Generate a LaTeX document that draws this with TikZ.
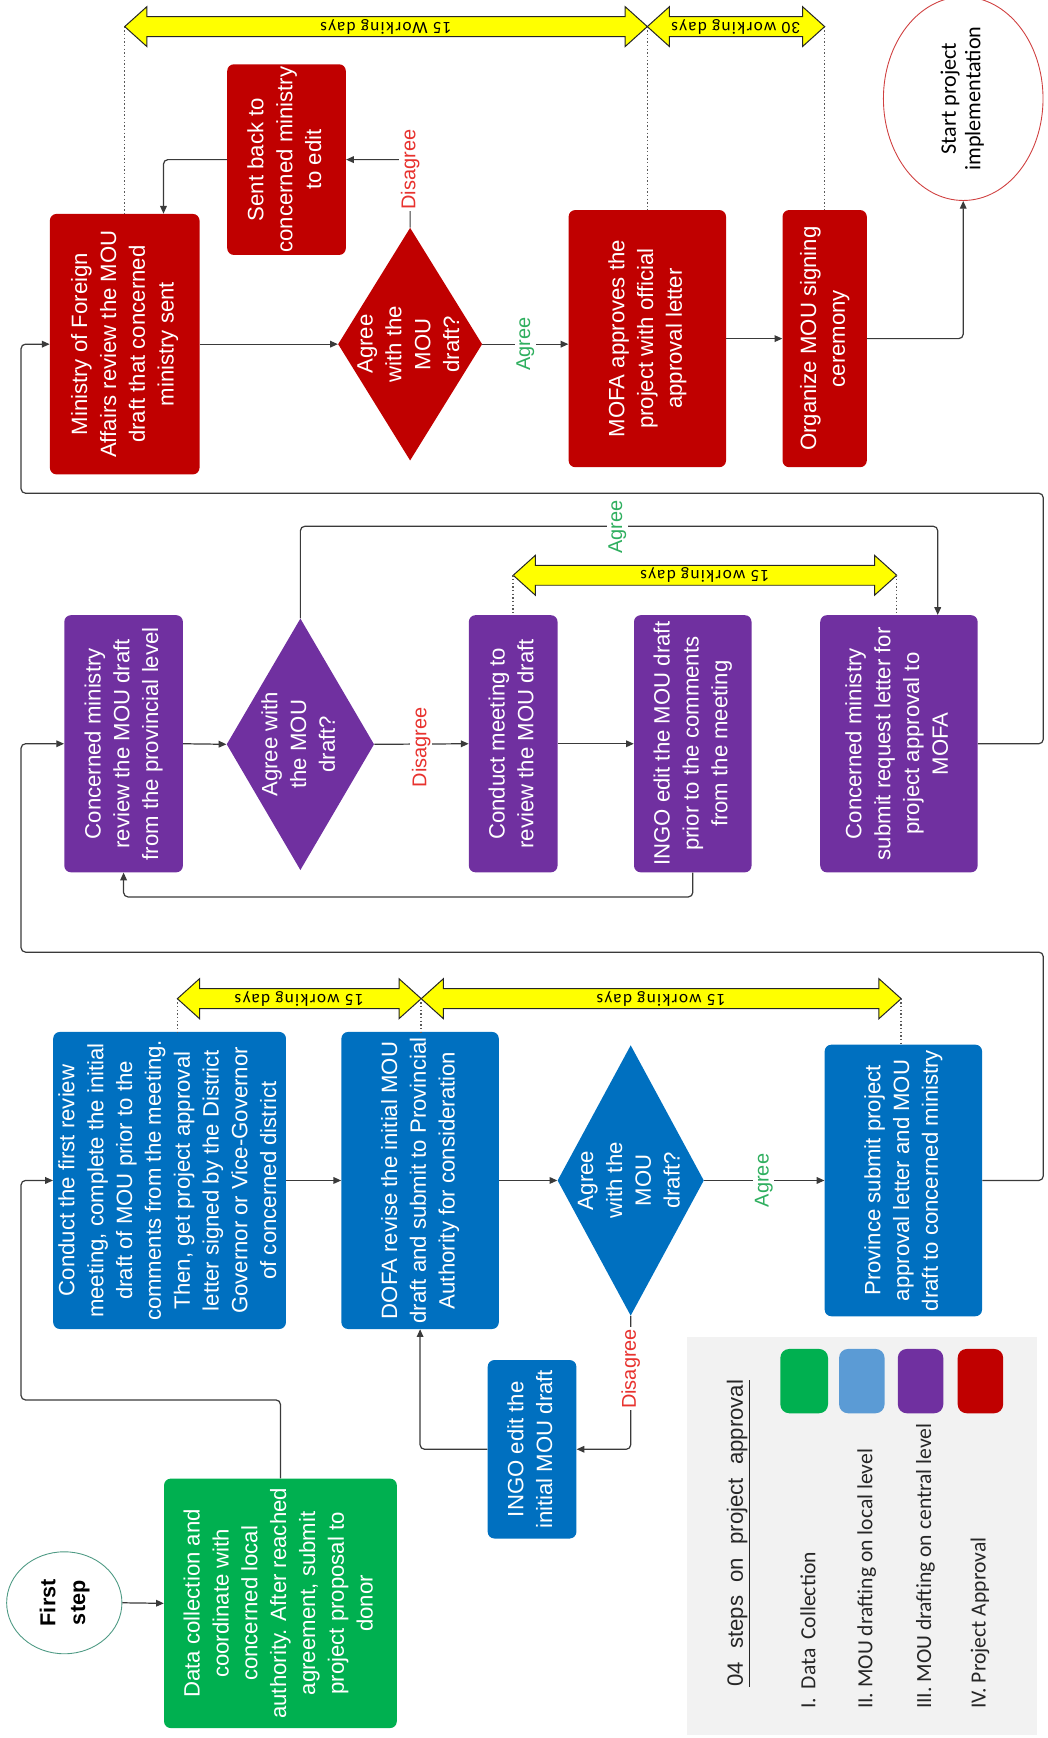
\documentclass[tikz,border=0pt]{standalone}
\usepackage{fontspec}
\setmainfont{Liberation Sans}
\newfontfamily\calfont{Carlito}
\newfontfamily\yfont[LetterSpace=8]{Carlito}
\usetikzlibrary{shapes.geometric,arrows.meta,calc}
\definecolor{cRed}{HTML}{C00000}
\definecolor{cBlue}{HTML}{0070C0}
\definecolor{cPurple}{HTML}{7030A0}
\definecolor{cGreen}{HTML}{00B050}
\definecolor{cLBlue}{HTML}{5B9BD5}
\definecolor{cYel}{HTML}{FFFF00}
\definecolor{cGray}{HTML}{F2F2F2}
\definecolor{cLine}{HTML}{3A3A3A}
\definecolor{cAgree}{HTML}{2FAF5F}
\definecolor{cDis}{HTML}{E8322E}
\definecolor{cTeal}{HTML}{4E9A84}
\newcommand\vt[1]{\rotatebox{90}{\begin{tabular}{@{}c@{}}#1\end{tabular}}}
\newcommand\boxfont{\fontsize{20}{26}\selectfont}
\newcommand\yarrow[5]{%
  \draw[yar] (#1,#3) -- ({#1+20},{#3-18}) -- ({#1+20},{#3-9}) -- ({#2-20},{#3-9}) -- ({#2-20},{#3-18}) -- (#2,#3) -- ({#2-20},{#3+18}) -- ({#2-20},{#3+9}) -- ({#1+20},{#3+9}) -- ({#1+20},{#3+18}) -- cycle;
  \coordinate (#5L) at (#1,#3);
  \coordinate (#5R) at (#2,#3);
  \node[ylab] (#5T) at ({(#1+#2)/2},#3) {#4};
}
\begin{document}
\begin{tikzpicture}[x=1pt,y=-1pt,
  box/.style={rectangle, rounded corners=6pt, inner sep=0pt, text=white, font=\boxfont},
  rbox/.style={box, fill=cRed},
  bbox/.style={box, fill=cBlue},
  pbox/.style={box, fill=cPurple},
  gbox/.style={box, fill=cGreen},
  dia/.style={diamond, inner sep=0pt},
  txt/.style={text=white, font=\boxfont, inner sep=0pt},
  conn/.style={draw=cLine, line width=1.1pt, rounded corners=4pt, -{Triangle[length=7pt,width=6pt]}},
  dotl/.style={draw=black!65, line width=1.3pt, dotted},
  lab/.style={fill=white, inner sep=1.5pt, rotate=90, font=\fontsize{18}{20}\selectfont},
  yar/.style={draw=black!85, fill=cYel, line width=0.9pt, line join=miter},
  ylab/.style={font=\yfont\fontsize{15.5}{16}\selectfont, rotate=180, inner sep=0pt},
  leg/.style={rotate=90, anchor=west, inner sep=0pt, font=\calfont\fontsize{19.5}{22}\selectfont, text=black!85}
]
\useasboundingbox (0,0) rectangle (945,1568);

% ---------------- red row ----------------
\node[rbox, minimum width=107pt, minimum height=172pt] (sent) at (258.5,144) {\vt{Sent back to\\concerned ministry\\to edit}};
\node[rbox, minimum width=135pt, minimum height=235pt] (min) at (112.5,310.5) {\vt{Ministry of Foreign\\Affairs review the MOU\\draft that concerned\\ministry sent}};
\node[dia, fill=cRed, minimum width=130pt, minimum height=210pt] (dR) at (370,310.5) {};
\node[txt] (dRt) at (dR) {\vt{Agree\\with the\\MOU\\draft?}};
\node[rbox, minimum width=142pt, minimum height=232pt] (mofa) at (584,305.5) {\vt{MOFA approves the\\project with official\\approval letter}};
\node[rbox, minimum width=76pt, minimum height=232pt] (org) at (744,305.5) {\vt{Organize MOU signing\\ceremony}};
\node[ellipse, draw=cRed!75, line width=0.8pt, fill=white, minimum width=144pt, minimum height=134pt, inner sep=0pt, font=\calfont\fontsize{20}{22}\selectfont] (start) at (869,89) {\vt{Start project\\implementation}};

% ---------------- purple row ----------------
\node[pbox, minimum width=107pt, minimum height=232pt] (p1) at (111.5,671) {\vt{Concerned ministry\\review the MOU draft\\from the provincial level}};
\node[dia, fill=cPurple, minimum width=133pt, minimum height=227pt] (dP) at (271,671.5) {};
\node[txt] (dPt) at (dP) {\vt{Agree with\\the MOU\\draft?}};
\node[pbox, minimum width=80pt, minimum height=232pt] (p2) at (463,671) {\vt{Conduct meeting to\\review the MOU draft}};
\node[pbox, minimum width=106pt, minimum height=232pt] (p3) at (625,671) {\vt{INGO edit the MOU draft\\prior to the comments\\from the meeting}};
\node[pbox, minimum width=142pt, minimum height=232pt] (p4) at (811,671) {\vt{Concerned ministry\\submit request letter for\\project approval to\\MOFA}};

% ---------------- blue row ----------------
\node[bbox, minimum width=210pt, minimum height=268pt] (b1) at (153,1065) {\vt{Conduct the first review\\meeting, complete the initial\\draft of MOU prior to the\\comments from the meeting.\\Then, get project approval\\letter signed by the District\\Governor or Vice-Governor\\of concerned district}};
\node[bbox, minimum width=142pt, minimum height=268pt] (b2) at (379,1065) {\vt{DOFA revise the initial MOU\\draft and submit to Provincial\\Authority for consideration}};
\node[dia, fill=cBlue, minimum width=132pt, minimum height=244pt] (dB) at (569,1065) {};
\node[txt] (dBt) at (dB) {\vt{Agree\\with the\\MOU\\draft?}};
\node[bbox, minimum width=142pt, minimum height=245pt] (b4) at (815,1065) {\vt{Province submit project\\approval letter and MOU\\draft to concerned ministry}};
\node[bbox, minimum width=80pt, minimum height=161pt] (b5) at (480,1307.5) {\vt{INGO edit the\\initial MOU draft}};

% ---------------- green ----------------
\node[gbox, minimum width=210pt, minimum height=225pt] (green) at (253,1446.5) {\vt{Data collection and\\coordinate with\\concerned local\\authority. After reached\\agreement, submit\\project proposal to\\donor}};
\node[ellipse, draw=cTeal, line width=0.8pt, fill=white, minimum width=104pt, minimum height=92pt, inner sep=0pt, font=\bfseries\fontsize{19.5}{27}\selectfont] (first) at (58,1446) {\vt{First\\step}};

% ---------------- connectors ----------------
\draw[conn] (sent.west) -| ([xshift=35pt]min.north);
\draw[conn] (min.east) -- (dR.west);
\draw[conn] (dR.east) -- (dR.east -| mofa.west);
\draw[conn] (dR.north) |- (sent.east);
\draw[conn] (mofa.east) -- (org.west);
\draw[conn] (org.east) -| (start.south);

\draw[conn] (p1.east) -- (dP.west);
\draw[conn] (dP.east) -- (p2.west);
\draw[conn] (p2.east) -- (p3.west);
\draw[conn] (dP.north) -- ++(0,-83) -| ([xshift=35pt]p4.north);
\draw[conn] (p3.south) -- ++(0,22) -| (p1.south);
\draw[conn] (p4.east) -- ++(59,0) |- (19,445) |- (min.west);

\draw[conn] (b1.east) -- (b2.west);
\draw[conn] (b2.east) -- (dB.west);
\draw[conn] (dB.east) -- (b4.west);
\draw[conn] (dB.south) |- (b5.east);
\draw[conn] (b5.west) -| (b2.south);
\draw[conn] (b4.east) -- ++(55,0) |- (19,859) |- (p1.west);

\draw[conn] (green.north) |- (19,1263) |- (b1.west);
\draw[conn] (first.east) -- (green.west);

% ---------------- labels on connectors ----------------
\node[lab, text=cAgree] (lagR) at (474,310.5) {Agree};
\node[lab, text=cDis] (ldisR) at (370,153) {Disagree};
\node[lab, text=cAgree] (lagP) at (557,475.5) {Agree};
\node[lab, text=cDis] (ldisP) at (380,674) {Disagree};
\node[lab, text=cAgree] (lagB) at (689,1065) {Agree};
\node[lab, text=cDis] (ldisB) at (569,1235) {Disagree};

% ---------------- yellow duration arrows ----------------
\yarrow{112.5}{584}{24}{15 Working days}{A1}
\yarrow{584}{744}{24}{30 working days}{A2}
\yarrow{463}{809}{519}{15 working days}{A3}
\yarrow{160}{380}{901}{15 working days}{A4}
\yarrow{380}{813}{901}{15 working days}{A5}

\draw[dotl] (A1L) -- (A1L |- min.north);
\draw[dotl] (A1R) -- (A1R |- mofa.north);
\draw[dotl] (A2R) -- (A2R |- org.north);
\draw[dotl] (A3L) -- (A3L |- p2.north);
\draw[dotl] (A3R) -- (A3R |- p4.north);
\draw[dotl] (A4L) -- (A4L |- b1.north);
\draw[dotl] (A4R) -- (A4R |- b2.north);
\draw[dotl] (A5R) -- (A5R |- b4.north);

% ---------------- legend ----------------
\fill[cGray] (620,1206) rectangle (936,1565);
\node[rotate=90, anchor=west, inner sep=0pt, font=\fontsize{20}{22}\selectfont, text=black!85] (ltitle) at (666,1522) {\underline{04\hspace{12pt}steps\hspace{12pt}on\hspace{12pt}project\hspace{12pt}approval}};
\node[leg] (l1) at (729,1542) {I.\hspace{8pt}Data\hspace{8pt}Collection};
\node[leg] (l2) at (782,1542) {II. MOU drafting on local level};
\node[leg] (l3) at (835,1542) {III. MOU drafting on central level};
\node[leg] (l4) at (884,1542) {IV. Project Approval};
\fill[cGreen, rounded corners=8pt] (704,1217) rectangle (747,1275);
\fill[cLBlue, rounded corners=8pt] (757,1217) rectangle (798,1275);
\fill[cPurple, rounded corners=8pt] (810,1217) rectangle (851,1275);
\fill[cRed, rounded corners=8pt] (864,1217) rectangle (905,1275);
\end{tikzpicture}
\end{document}
